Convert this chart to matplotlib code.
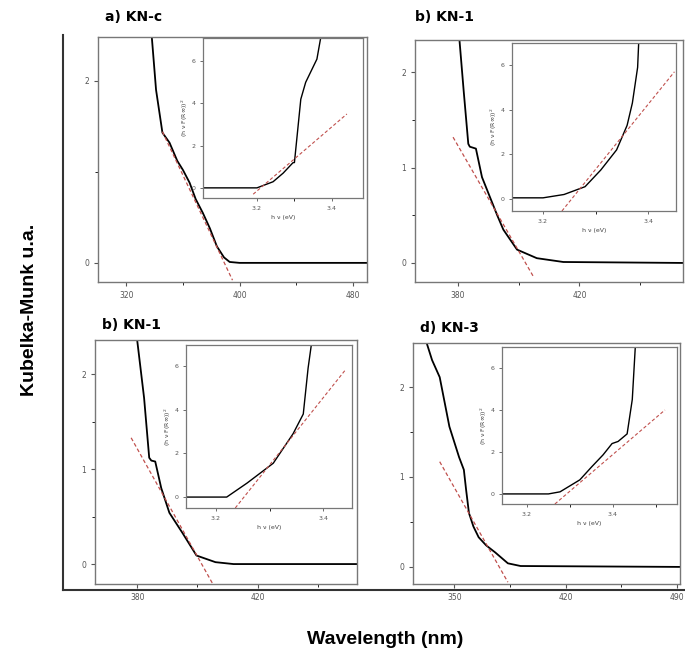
import numpy as np
import matplotlib
matplotlib.use("Agg")
import matplotlib.pyplot as plt
from matplotlib.lines import Line2D

W, H = 685, 666

# panel titles and tick labels
titles = ["a) KN-c", "b) KN-1", "b) KN-1", "d) KN-3"]
xmajor = [[320, 400, 480], [380, 420], [380, 420], [350, 420, 490]]
xminor = [[360, 440], [400, 440], [400, 440], [385, 455]]
ymajor = [[0, 2], [0, 1, 2], [0, 1, 2], [0, 1, 2]]
yminor = [[1], [0.5, 1.5], [0.5, 1.5], [0.5, 1.5]]
xlims = [(300, 490), (366, 454), (366, 453), (324, 492)]
ylims = [(-0.21, 2.48), (-0.2, 2.34), (-0.21, 2.36), (-0.19, 2.49)]

# main spectra (wavelength nm, K-M)
wl_a = [338, 341, 345.5, 350.5, 356, 360, 364.7, 369, 374, 379, 384, 389, 393, 400, 490]
km_a = [2.48, 1.9, 1.43, 1.32, 1.12, 1.02, 0.88, 0.7, 0.55, 0.38, 0.18, 0.06, 0.01, 0.0, 0.0]
wl_b = [380.6, 382, 383.5, 384, 386, 388, 391, 393, 395, 399.5, 406, 414.7, 454]
km_b = [2.34, 1.8, 1.25, 1.22, 1.2, 0.9, 0.66, 0.5, 0.35, 0.14, 0.05, 0.01, 0.0]
wl_c = [380, 382.3, 384, 384.7, 386, 388, 390.7, 395, 399.7, 406, 412, 453]
km_c = [2.36, 1.75, 1.12, 1.09, 1.08, 0.8, 0.54, 0.33, 0.09, 0.02, 0.0, 0.0]
wl_d = [332.6, 336, 340.8, 346.9, 353, 356, 357.4, 359.2, 362, 365.3, 370, 375.8, 383.7, 391.7, 492]
km_d = [2.49, 2.3, 2.11, 1.56, 1.22, 1.08, 0.86, 0.6, 0.45, 0.33, 0.24, 0.16, 0.04, 0.01, 0.0]
main_x = [wl_a, wl_b, wl_c, wl_d]
main_y = [km_a, km_b, km_c, km_d]

# tangent lines on the main plots
fit_x = [[345.5, 395], [378.5, 405], [378, 405.3], [340.8, 383.7]]
fit_y = [[1.44, -0.19], [1.32, -0.15], [1.33, -0.22], [1.17, -0.17]]

# insets: (h nu F(R))^2 vs h nu
ins_x = [[3.056, 3.2, 3.243, 3.27, 3.296, 3.3, 3.317, 3.33, 3.36, 3.37],
         [3.141, 3.2, 3.24, 3.28, 3.31, 3.34, 3.36, 3.37, 3.38, 3.382],
         [3.144, 3.22, 3.258, 3.307, 3.344, 3.363, 3.372, 3.378],
         [3.142, 3.25, 3.277, 3.323, 3.351, 3.377, 3.398, 3.412, 3.433, 3.445, 3.452]]
ins_y = [[0.0, 0.0, 0.29, 0.7, 1.19, 1.2, 4.2, 5.0, 6.1, 7.1],
         [0.05, 0.05, 0.2, 0.55, 1.3, 2.2, 3.3, 4.3, 5.9, 7.0],
         [0.0, 0.0, 0.64, 1.55, 2.9, 3.8, 5.9, 6.96],
         [0.0, 0.0, 0.1, 0.67, 1.3, 1.86, 2.4, 2.5, 2.86, 4.5, 7.0]]
ins_fx = [[3.19, 3.44], [3.236, 3.45], [3.236, 3.441], [3.265, 3.521]]
ins_fy = [[-0.3, 3.5], [-0.54, 5.7], [-0.5, 5.8], [-0.48, 4.0]]
ins_xlims = [(3.056, 3.483), (3.141, 3.453), (3.144, 3.454), (3.142, 3.549)]
ins_ylims = [(-0.48, 7.1), (-0.54, 6.99), (-0.5, 6.96), (-0.48, 7.0)]
ins_xminor = [[3.3], [3.3], [3.3], [3.3, 3.5]]

# pixel boxes (left, top, right, bottom)
main_box = [(98, 37, 367, 282), (415, 40, 683, 282), (95, 340, 357, 584), (413, 343, 680, 584)]
ins_box = [(203, 38, 363, 198), (512, 43, 676, 211), (186, 345, 352, 508), (502, 347, 677, 504)]
title_pos = [(105, 17), (415, 17), (102, 325), (420, 328)]


def box(b):
    l, t, r, bt = b
    return [l / W, 1 - bt / H, (r - l) / W, (bt - t) / H]


fig = plt.figure(figsize=(W / 100, H / 100), dpi=100)
gray = "#777777"

for i in range(4):
    ax = fig.add_axes(box(main_box[i]))
    ax.plot(main_x[i], main_y[i], color="black", lw=1.3)
    ax.plot(fit_x[i], fit_y[i], color="#c0504d", lw=0.9, ls=(0, (3, 2)))
    ax.set_xlim(*xlims[i])
    ax.set_ylim(*ylims[i])
    ax.set_xticks(xmajor[i])
    ax.set_xticks(xminor[i], minor=True)
    ax.set_yticks(ymajor[i])
    ax.set_yticks(yminor[i], minor=True)
    ax.tick_params(labelsize=5.5, colors="#555555", length=3, width=0.8)
    ax.tick_params(which="minor", length=2.5)
    for s in ax.spines.values():
        s.set_color(gray)
        s.set_linewidth(1.0)
    fig.text(title_pos[i][0] / W, 1 - title_pos[i][1] / H, titles[i],
             fontsize=10, fontweight="bold", va="center", ha="left")

    ia = fig.add_axes(box(ins_box[i]))
    ia.plot(ins_x[i], ins_y[i], color="black", lw=1.0)
    ia.plot(ins_fx[i], ins_fy[i], color="#c0504d", lw=0.8, ls=(0, (3, 2)))
    ia.set_xlim(*ins_xlims[i])
    ia.set_ylim(*ins_ylims[i])
    ia.set_xticks([3.2, 3.4])
    ia.set_xticks(ins_xminor[i], minor=True)
    ia.set_yticks([0, 2, 4, 6])
    ia.tick_params(labelsize=4.5, colors="#555555", length=2, width=0.6)
    ia.tick_params(which="minor", length=2)
    for s in ia.spines.values():
        s.set_color(gray)
        s.set_linewidth(0.9)
    ia.set_xlabel("h ν (eV)", fontsize=4.5, color="#444444", labelpad=3)
    ia.set_ylabel("(h ν F(R∞))$^2$", fontsize=4.5, color="#444444", labelpad=1)

# outer frame
fig.add_artist(Line2D([63 / W, 63 / W], [1 - 35 / H, 1 - 590 / H], color="#333333", lw=1.5))
fig.add_artist(Line2D([63 / W, 1.0], [1 - 590 / H, 1 - 590 / H], color="#333333", lw=1.5))

fig.text(30 / W, 1 - 310 / H, "Kubelka-Munk u.a.", rotation=90, fontsize=14,
         fontweight="bold", ha="center", va="center", family="Liberation Sans")
fig.text(385 / W, 1 - 640 / H, "Wavelength (nm)", fontsize=14, fontweight="bold",
         ha="center", va="center", family="Liberation Sans")

fig.savefig("out.png", dpi=100)
